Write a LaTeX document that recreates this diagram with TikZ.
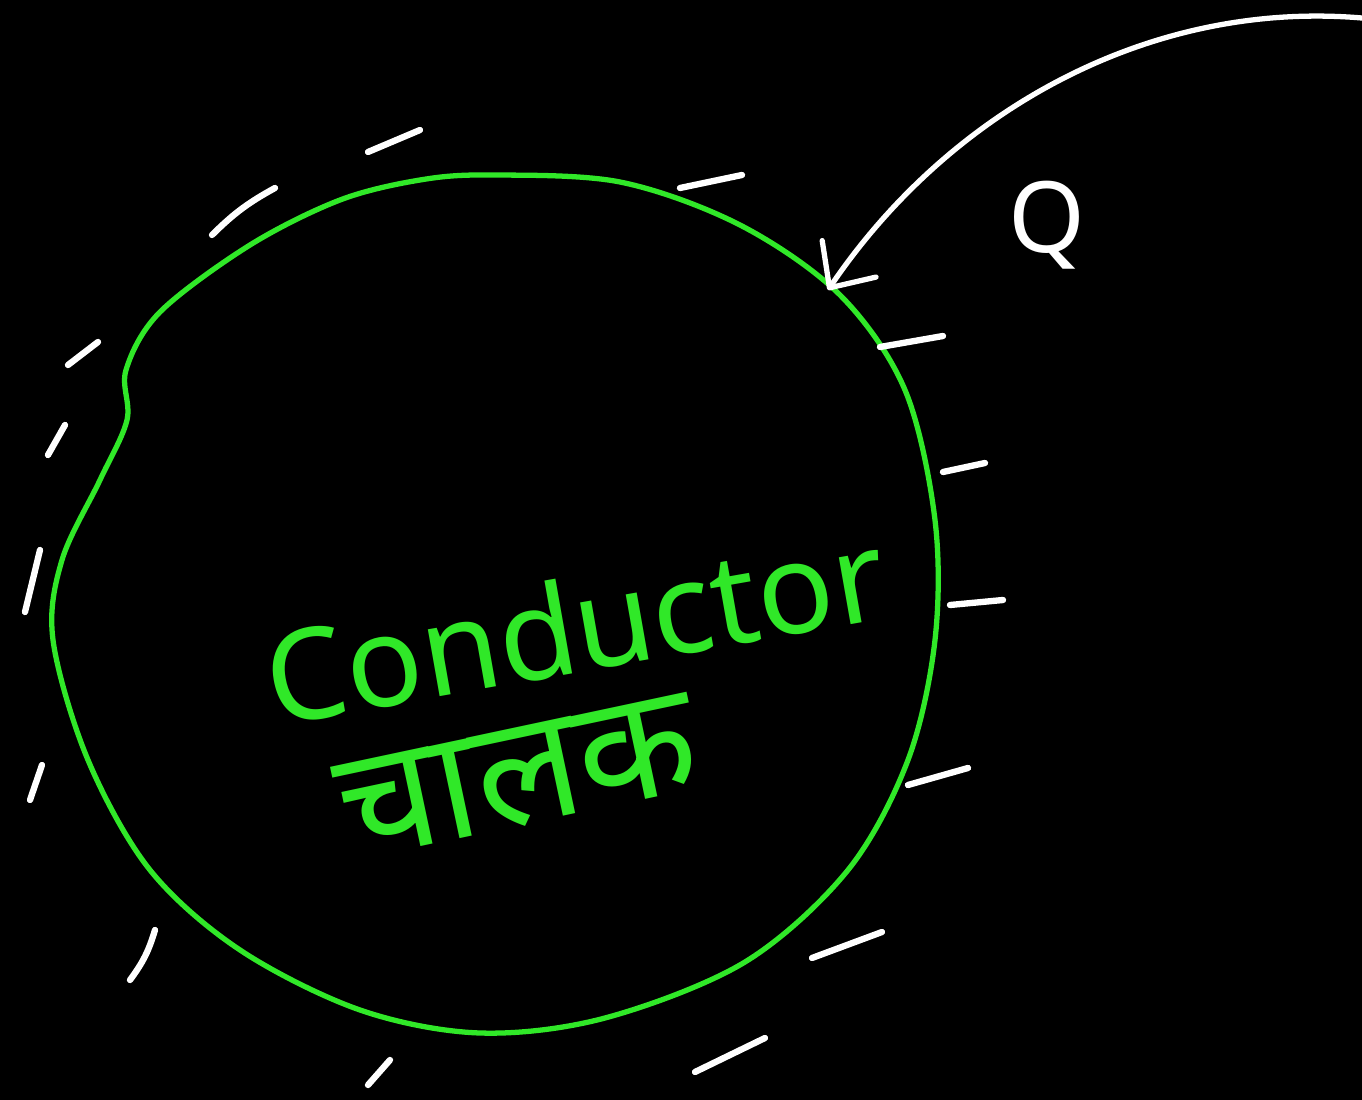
\documentclass[tikz,border=0pt]{standalone}
\usepackage{fontspec}
\setmainfont{Noto Sans}
\newfontfamily\devfont[Script=Devanagari]{Noto Sans}
\usepackage{tikz}
\usetikzlibrary{arrows.meta}
\definecolor{inkgreen}{RGB}{48,232,40}
\tikzset{
  board/.style   = {fill=black, draw=none},
  outline/.style = {draw=inkgreen, line width=1.5pt, line join=round},
  charge/.style  = {draw=white, line width=1.8pt, line cap=round},
  fieldln/.style = {draw=white, line width=1.5pt, line cap=round,
                    -{Straight Barb[length=3.5mm, width=6.5mm, round]}},
  greentxt/.style = {text=inkgreen, inner sep=0pt}
}

\begin{document}
\begin{tikzpicture}[x=0.01cm, y=-0.01cm]

%% ── Board ─────────────────────────────────────────────
\fill[board] (0,0) rectangle (1362,1100);
\useasboundingbox (0,0) rectangle (1362,1100);

%% ── Conductor outline ─────────────────────────────────
\draw[outline] plot[smooth cycle, tension=0.55] coordinates {
  (490,175) (620,182) (740,225) (840,295) (905,390) (935,520)
  (935,640) (908,760) (848,870) (745,962) (605,1018) (480,1033)
  (360,1010) (240,950) (150,870) (88,760) (53,640) (62,560)
  (100,480) (127,420) (126,370) (160,312) (250,245) (340,200)
  (420,180)};
\coordinate (hit) at (828,290);

%% ── Labels ────────────────────────────────────────────
\node[greentxt, rotate=10, font=\fontsize{36}{40}\selectfont]
  (cond) at (575,625) {Conductor};
\node[greentxt, rotate=12, font=\devfont\fontsize{44}{48}\selectfont]
  (chalak) at (518,778) {चालक};
\node[text=white, font=\fontsize{28}{32}\selectfont]
  (q) at (1047,225) {Q};

%% ── Induced charges ───────────────────────────────────
\draw[charge] (368,152) -- (420,130);
\draw[charge] (212,235) to[bend left=8] (275,188);
\draw[charge] (680,188) -- (742,175);
\draw[charge] (68,365) -- (98,342);
\draw[charge] (48,455) -- (65,425);
\draw[charge] (25,612) -- (40,550);
\draw[charge] (30,800) -- (42,765);
\draw[charge] (130,980) to[bend right=10] (155,930);
\draw[charge] (368,1085) -- (390,1060);
\draw[charge] (695,1072) -- (765,1038);
\draw[charge] (812,958) -- (882,932);
\draw[charge] (908,785) -- (968,768);
\draw[charge] (950,605) -- (1003,600);
\draw[charge] (943,472) -- (985,463);
\draw[charge] (880,347) -- (943,336);

%% ── Field of Q ────────────────────────────────────────
\coordinate (far) at (1362,18);
\draw[fieldln] (far) .. controls (1150,0) and (950,110) .. (hit);

\end{tikzpicture}
\end{document}
